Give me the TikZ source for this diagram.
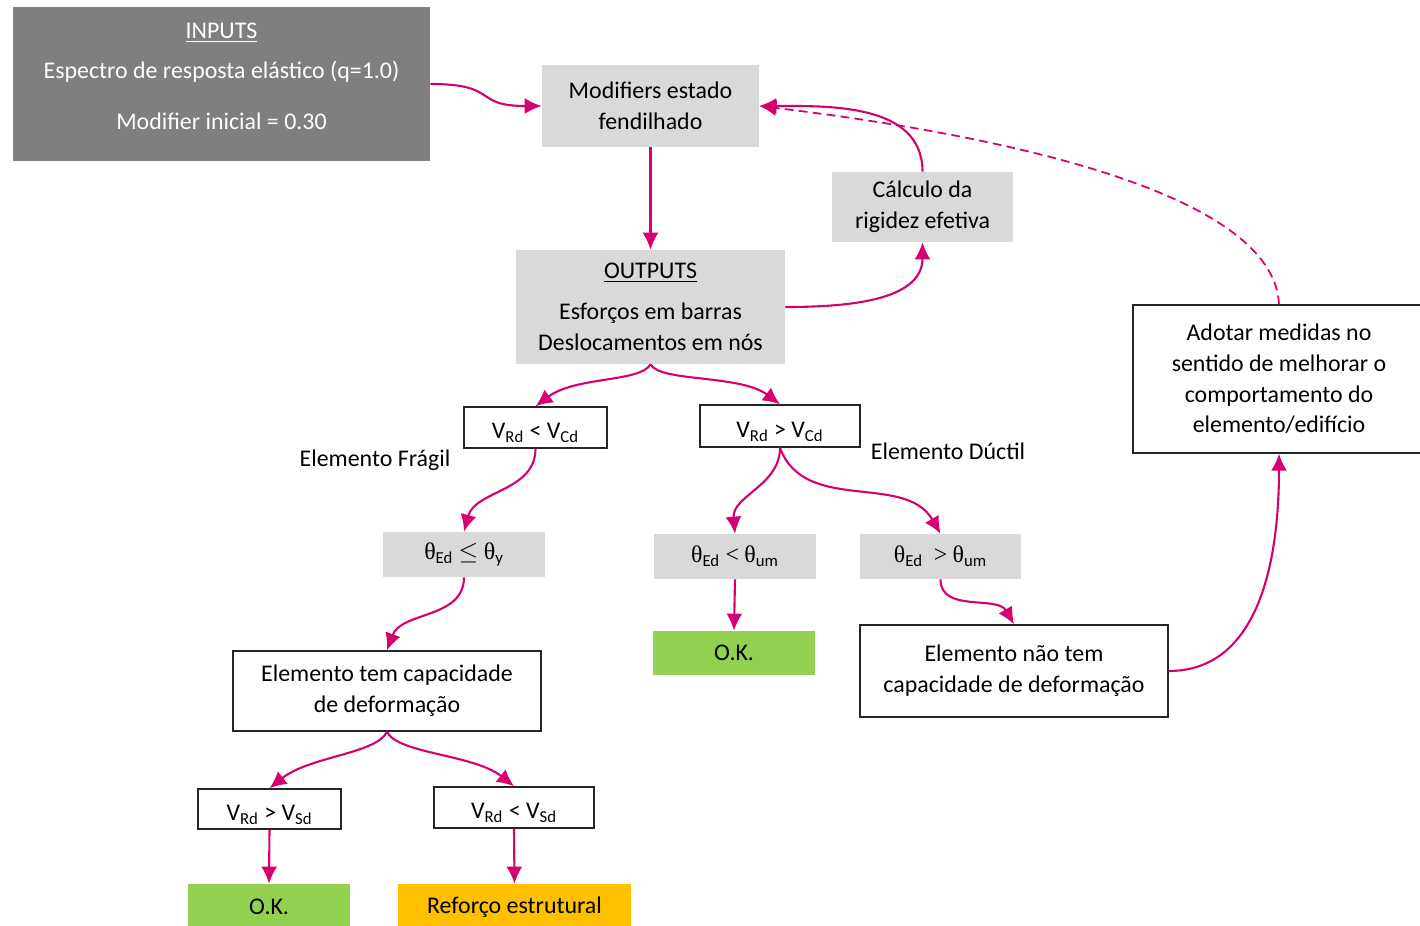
\documentclass[tikz,border=0pt]{standalone}
\usepackage{fontspec}
\setmainfont{Carlito}
\newfontfamily\grfont{Liberation Serif}
\usetikzlibrary{arrows.meta}

\definecolor{flowpink}{HTML}{D6006F}
\definecolor{darkbox}{HTML}{7F7F7F}
\definecolor{lightbox}{HTML}{D9D9D9}
\definecolor{okgreen}{HTML}{92D050}
\definecolor{warnorange}{HTML}{FFC000}

\newcommand{\thsym}{{\grfont θ}}
\newcommand{\sub}[1]{\textsubscript{#1}}

\tikzset{
  every node/.style={font=\fontsize{13.6}{17.5}\selectfont, align=center, inner sep=0pt},
  greybox/.style={fill=lightbox},
  whitebox/.style={draw=black!85, line width=0.8pt, fill=white},
  vbox/.style={whitebox, text height=15pt, text depth=2pt},
  flow/.style={->, draw=flowpink, line width=1.2pt},
}

\begin{document}
\begin{tikzpicture}[x=0.02cm, y=-0.02cm, >={Latex[length=3.4mm,width=3.2mm]}]
\useasboundingbox (0,0) rectangle (1420,926);
\begin{scope}
\clip (0,0) rectangle (1420,926);

% top part
\node[fill=darkbox, text=white, text depth=9pt, minimum width=8.34cm, minimum height=3.08cm] (inputs) at (221.5,84)
  {\underline{INPUTS}\\[5pt] Espectro de resposta elástico (q=1.0)\\[11.5pt] Modifier inicial = 0.30};
\node[greybox, minimum width=4.34cm, minimum height=1.64cm] (modif) at (650.5,106) {Modifiers estado\\fendilhado};
\node[greybox, minimum width=3.62cm, minimum height=1.4cm] (calc) at (922.5,207) {Cálculo da\\rigidez efetiva};
\node[greybox, minimum width=5.38cm, minimum height=2.28cm] (outputs) at (650.5,307)
  {\underline{OUTPUTS}\\[6pt] Esforços em barras\\Deslocamentos em nós};

% verification of shear
\node[vbox, minimum width=2.86cm, minimum height=0.82cm] (vrdcdA) at (535.5,427.5) {V\sub{Rd} < V\sub{Cd}};
\node[vbox, minimum width=3.2cm, minimum height=0.84cm] (vrdcdB) at (780,426) {V\sub{Rd} > V\sub{Cd}};
\node (fragil) at (375,460) {Elemento Frágil};
\node (ductil) at (948,451) {Elemento Dúctil};

% rotations
\node[greybox, minimum width=3.24cm, minimum height=0.9cm] (thetaA) at (464,554.5) {\thsym\sub{Ed} $\leq$ \thsym\sub{y}};
\node[greybox, minimum width=3.24cm, minimum height=0.9cm] (thetaB) at (735,556.5) {\thsym\sub{Ed} {\grfont <} \thsym\sub{um}};
\node[greybox, minimum width=3.22cm, minimum height=0.9cm] (thetaC) at (940.5,556.5) {\thsym\sub{Ed}\ \ {\grfont >} \thsym\sub{um}};

\node[fill=okgreen, minimum width=3.24cm, minimum height=0.88cm] (okA) at (734,653) {O.K.};
\node[whitebox, minimum width=6.16cm, minimum height=1.84cm] (semcap) at (1014,671) {Elemento não tem\\capacidade de deformação};
\node[whitebox, minimum width=6.16cm, minimum height=1.6cm] (comcap) at (387,691) {Elemento tem capacidade\\de deformação};
\node[whitebox, minimum width=5.84cm, minimum height=2.96cm] (adotar) at (1279,379)
  {Adotar medidas no\\sentido de melhorar o\\comportamento do\\elemento/edifício};

% bottom part
\node[vbox, minimum width=2.86cm, minimum height=0.8cm] (vrdsdA) at (269.5,809) {V\sub{Rd} > V\sub{Sd}};
\node[vbox, minimum width=3.2cm, minimum height=0.82cm] (vrdsdB) at (514,807.5) {V\sub{Rd} < V\sub{Sd}};
\node[fill=okgreen, minimum width=3.24cm, minimum height=0.92cm] (okB) at (269,907) {O.K.};
\node[fill=warnorange, minimum width=4.66cm, minimum height=0.92cm] (reforco) at (514.5,907) {Reforço estrutural};

% connectors
\draw[flow] (inputs.east) .. controls +(70,0) and +(-70,0) .. (modif.west);
\draw[flow] (modif.south) -- (outputs.north);
\draw[flow] (outputs.east) to[out=0, in=-90] (calc.south);
\draw[flow] (calc.north) to[out=90, in=0] (modif.east);
\draw[flow, dash pattern=on 5pt off 3pt, line width=1pt] (adotar.north) .. controls +(-5,-110) and +(250,30) .. (modif.east);

\draw[flow] (outputs.south) .. controls +(-10,18) and +(40,-30) .. (vrdcdA.north);
\draw[flow] (outputs.south) .. controls +(10,18) and +(-40,-30) .. (vrdcdB.north);
\draw[flow] (vrdcdA.south) to[out=-90, in=75] (thetaA.north);
\draw[flow] (thetaA.south) to[out=-90, in=70] (comcap.north);
\draw[flow] (vrdcdB.south) to[out=-90, in=95] (thetaB.north);
\draw[flow] (vrdcdB.south) to[out=-70, in=120] (thetaC.north);
\draw[flow] (thetaB.south) -- (okA.north);
\draw[flow] (thetaC.south) to[out=-90, in=120] (semcap.north);
\draw[flow] (semcap.east) to[out=0, in=-90] (adotar.south);

\draw[flow] (comcap.south) .. controls +(-10,22) and +(40,-32) .. (vrdsdA.north);
\draw[flow] (comcap.south) .. controls +(10,22) and +(-40,-32) .. (vrdsdB.north);
\draw[flow] (vrdsdA.south) -- (okB.north);
\draw[flow] (vrdsdB.south) -- (reforco.north);
\end{scope}
\end{tikzpicture}
\end{document}
